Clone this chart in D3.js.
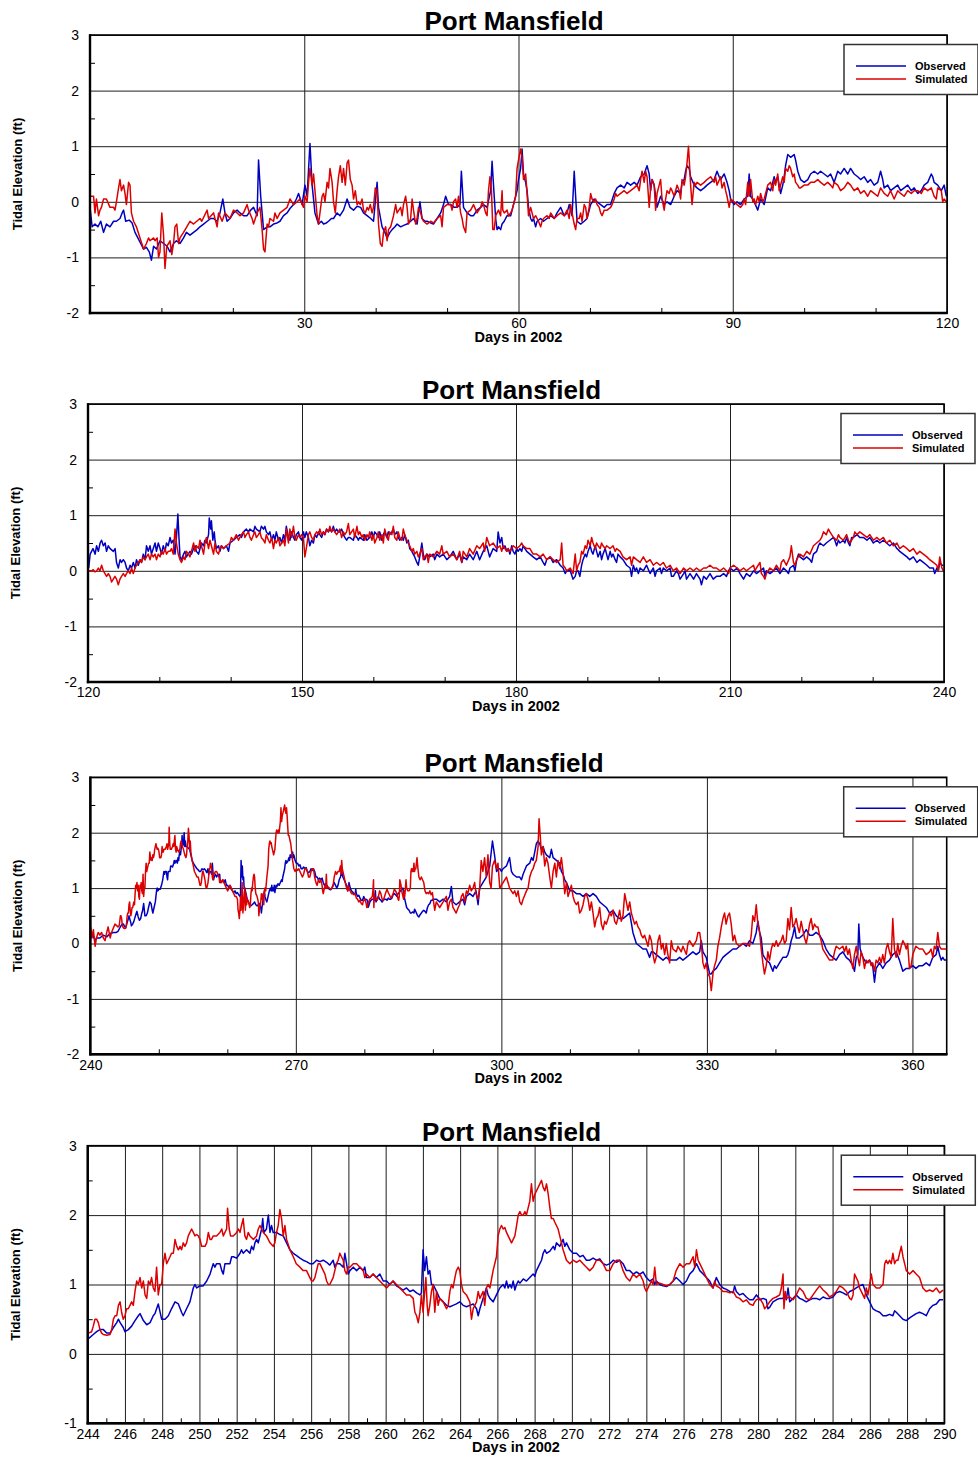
<!DOCTYPE html>
<html><head><meta charset="utf-8">
<script src="https://cdn.jsdelivr.net/npm/d3@7"></script>
<style>
body{margin:0;background:#fff;}
svg{display:block;font-family:Arial,"Liberation Sans",sans-serif;}
</style>
</head><body>
<svg id="chart" width="978" height="1458"></svg>
<script>
// ---------------- DATA (day of 2002, tidal elevation ft) ----------------
const obs1 = [[0,-0.1],[0.3,-0.45],[0.7,-0.4],[1.1,-0.45],[1.5,-0.35],[1.9,-0.55],[2.3,-0.4],[2.8,-0.45],[3.3,-0.35],[3.7,-0.35],[4.2,-0.3],[4.5,-0.2],[4.7,-0.15],[5.0,-0.35],[5.5,-0.33],[5.9,-0.38],[6.3,-0.55],[6.7,-0.65],[7.1,-0.75],[7.5,-0.85],[7.9,-0.82],[8.3,-0.9],[8.6,-1.05],[8.9,-0.8],[9.3,-0.85],[9.8,-0.7],[10.3,-0.75],[10.8,-0.8],[11.2,-0.9],[11.7,-0.75],[12.1,-0.7],[12.6,-0.75],[13.1,-0.65],[13.5,-0.55],[14.0,-0.6],[14.5,-0.55],[15.0,-0.5],[15.4,-0.45],[15.9,-0.4],[16.4,-0.35],[16.9,-0.3],[17.3,-0.3],[17.8,-0.35],[18.2,-0.2],[18.6,0.05],[18.9,-0.2],[19.2,-0.35],[19.6,-0.3],[20.1,-0.2],[20.6,-0.15],[21.0,-0.2],[21.5,-0.25],[22.0,-0.25],[22.5,-0.15],[22.9,-0.1],[23.4,-0.25],[23.6,0.75],[23.9,0.1],[24.3,-0.5],[24.8,-0.45],[25.2,-0.45],[25.7,-0.4],[26.2,-0.38],[26.6,-0.35],[27.1,-0.25],[27.6,-0.2],[28.0,-0.12],[28.5,-0.05],[28.9,0.05],[29.2,0.15],[29.7,-0.05],[30.1,0.3],[30.4,0.1],[30.8,1.05],[31.1,0.3],[31.5,-0.2],[32.0,-0.4],[32.4,-0.35],[32.7,-0.4],[33.1,-0.38],[33.4,-0.35],[33.8,-0.3],[34.1,-0.3],[34.6,-0.2],[35.0,-0.25],[35.5,-0.15],[36.0,0.05],[36.4,-0.1],[36.9,-0.15],[37.4,-0.08],[37.9,-0.1],[38.3,-0.2],[38.8,-0.25],[39.3,-0.3],[39.7,-0.35],[40.2,0.35],[40.4,-0.1],[40.9,-0.45],[41.3,-0.55],[41.6,-0.65],[42.0,-0.55],[42.3,-0.5],[42.7,-0.45],[43.0,-0.4],[43.5,-0.45],[44.0,-0.42],[44.4,-0.4],[44.9,-0.35],[45.3,-0.3],[45.8,-0.4],[46.2,0.0],[46.5,-0.3],[46.9,-0.35],[47.2,-0.35],[47.7,-0.38],[48.1,-0.4],[48.6,-0.3],[49.1,-0.2],[49.5,-0.05],[49.8,0.1],[50.2,-0.05],[50.5,-0.05],[51.0,-0.1],[51.4,-0.1],[51.8,-0.05],[52.0,0.55],[52.3,-0.1],[52.8,-0.2],[53.3,-0.25],[53.7,-0.25],[54.2,-0.15],[54.7,-0.1],
[55.1,-0.05],[55.6,-0.1],[56.1,0.2],[56.3,0.73],[56.5,0.3],[56.8,-0.3],[57.0,-0.5],[57.2,-0.45],[57.5,-0.5],[57.7,-0.4],[58.0,-0.35],[58.4,-0.25],[58.9,-0.25],[59.3,-0.05],[59.8,0.2],[60.0,0.4],[60.3,0.6],[60.5,0.95],[60.7,0.5],[61.0,0.35],[61.2,0.2],[61.4,-0.1],[61.7,-0.3],[61.9,-0.35],[62.1,-0.3],[62.4,-0.45],[62.6,-0.35],[63.1,-0.3],[63.5,-0.35],[64.0,-0.3],[64.5,-0.25],[65.0,-0.3],[65.4,-0.2],[65.9,-0.1],[66.4,-0.25],[66.8,-0.2],[67.1,-0.05],[67.3,-0.15],[67.5,-0.25],[67.8,0.55],[68.0,0.1],[68.2,-0.35],[68.7,-0.4],[69.2,-0.35],[69.6,-0.3],[70.1,-0.05],[70.6,0.05],[71.0,0.0],[71.5,-0.05],[72.0,-0.1],[72.4,-0.05],[72.9,-0.05],[73.4,0.15],[73.8,0.25],[74.3,0.3],[74.8,0.25],[75.2,0.35],[75.7,0.3],[76.2,0.35],[76.6,0.3],[77.1,0.45],[77.6,0.5],[78.0,0.65],[78.3,0.5],[78.5,0.2],[78.7,0.4],[79.0,0.3],[79.2,0.1],[79.4,-0.1],[79.9,0.1],[80.4,-0.05],[80.8,0.0],[81.3,-0.05],[81.8,0.1],[82.2,0.2],[82.7,0.15],[82.9,0.35],[83.2,0.4],[83.4,0.55],[83.6,0.65],[83.9,0.6],[84.1,0.45],[84.6,0.3],[85.0,0.25],[85.5,0.2],[86.0,0.25],[86.4,0.3],[86.9,0.35],[87.4,0.4],[87.8,0.55],[88.1,0.45],[88.3,0.4],[88.8,0.5],[89.2,0.35],[89.5,0.2],[89.7,0.05],[90.2,-0.05],[90.6,0.0],[91.1,-0.05],[91.6,0.05],[92.1,0.1],[92.3,0.5],[92.5,0.1],[92.8,0.05],[93.0,0.0],[93.5,-0.15],[93.9,0.05],[94.4,-0.05],[94.9,0.25],[95.3,0.2],[95.8,0.45],[96.0,0.35],[96.3,0.45],[96.5,0.3],[96.7,0.15],[97.0,0.3],[97.2,0.45],[97.4,0.65],[97.7,0.85],[98.1,0.8],[98.6,0.85],[98.8,0.75],[99.1,0.55],[99.5,0.4],[100.0,0.35],[100.5,0.4],[100.9,0.5],[101.4,0.55],[101.9,0.5],[102.3,0.55],[102.8,0.5],[103.3,0.45],[103.7,0.5],[104.2,0.35],[104.7,0.55],[105.1,0.5],[105.6,0.6],[106.1,0.5],[106.5,0.6],[107.0,0.5],[107.5,0.45],[107.9,0.4],[108.4,0.45],[108.9,0.35],[109.3,0.4],[109.8,0.3],[110.3,0.35],[110.7,0.55],[111.0,0.4],[111.2,0.25],[111.7,0.3],[112.1,0.2],[112.6,0.25],[113.1,0.3],[113.5,0.2],[114.0,0.25],[114.5,0.3],[115.0,0.2],[115.4,0.25],[115.9,0.15],[116.4,0.2],[116.8,0.3],[117.3,0.35],[117.8,0.5],[118.0,0.45],[118.2,0.35],[118.7,0.3],[119.2,0.2],[119.6,0.3],[119.9,0.1]];

const sim1 = [[0.1,0.1],[0.5,0.1],[0.7,-0.2],[0.9,0.05],[1.2,-0.25],[1.4,-0.15],[1.6,-0.1],[1.9,0.05],[2.3,0.05],[2.8,-0.1],[3.3,-0.1],[3.5,-0.15],[3.7,0.0],[4.0,0.25],[4.2,0.4],[4.4,0.2],[4.7,0.3],[4.9,0.15],[5.1,-0.05],[5.4,0.35],[5.6,0.3],[5.8,-0.2],[6.1,-0.35],[6.5,-0.45],[7.0,-0.65],[7.5,-0.85],[7.9,-0.75],[8.2,-0.65],[8.4,-0.7],[8.9,-0.65],[9.1,-0.7],[9.4,-0.65],[9.6,-1.0],[9.8,-0.9],[10.05,-0.2],[10.3,-0.6],[10.5,-1.2],[10.75,-0.8],[11.0,-0.75],[11.2,-0.7],[11.45,-0.95],[11.7,-0.75],[11.9,-0.45],[12.15,-0.4],[12.4,-0.75],[12.6,-0.65],[13.1,-0.55],[13.55,-0.45],[14.0,-0.35],[14.5,-0.4],[14.95,-0.35],[15.4,-0.3],[15.65,-0.35],[16.4,-0.15],[16.6,-0.3],[17.3,-0.2],[17.8,-0.45],[18.0,-0.2],[18.5,-0.35],[18.9,-0.2],[19.6,-0.3],[20.1,-0.15],[20.6,-0.2],[21.0,-0.25],[21.5,-0.2],[22.0,-0.05],[22.2,-0.15],[22.7,-0.3],[22.9,-0.4],[23.4,-0.2],[23.8,-0.1],[24.1,-0.5],[24.3,-0.85],[24.5,-0.9],[24.8,-0.4],[25.0,-0.45],[25.2,-0.3],[25.7,-0.35],[25.9,-0.2],[26.2,-0.3],[26.6,-0.2],[27.1,-0.15],[27.6,-0.1],[28.0,0.05],[28.5,-0.05],[29.0,0.0],[29.4,0.05],[29.9,-0.1],[30.1,0.1],[30.4,0.0],[30.6,0.35],[30.8,0.6],[31.1,0.3],[31.3,0.5],[31.5,0.2],[31.8,-0.25],[32.0,-0.4],[32.2,-0.2],[32.5,0.1],[32.7,0.15],[32.9,0.0],[33.2,0.35],[33.4,0.25],[33.6,0.6],[33.9,0.35],[34.1,0.0],[34.35,-0.2],[34.6,0.2],[34.8,0.45],[35.05,0.65],[35.3,0.35],[35.5,0.6],[35.75,0.3],[36.0,0.7],[36.2,0.75],[36.45,0.4],[36.7,0.3],[36.9,0.05],[37.15,0.2],[37.4,-0.05],[37.6,0.0],[37.85,-0.05],[38.1,0.05],[38.3,-0.15],[38.55,-0.2],[38.8,-0.1],[39.0,-0.15],[39.25,-0.05],[39.5,-0.2],[39.7,-0.1],[39.95,0.25],[40.2,0.2],[40.4,-0.4],[40.65,-0.75],[40.9,-0.8],[41.1,-0.55],[41.4,-0.45],[41.6,-0.7],[41.8,-0.5],[42.1,-0.45],[42.5,-0.25],[42.8,-0.05],[43.0,-0.2],[43.5,-0.1],[43.7,-0.25],[43.9,-0.05],[44.2,0.1],[44.4,-0.1],[44.6,-0.4],[44.9,-0.3],[45.1,0.05],[45.3,-0.15],[45.6,-0.4],[45.8,-0.3],[46.0,-0.1],[46.3,-0.2],[46.5,-0.3],[46.7,-0.35],[47.2,-0.4],[47.7,-0.35],[48.1,-0.38],[48.6,-0.3],[49.1,-0.25],[49.3,-0.45],[49.5,-0.1],[50.0,-0.05],[50.5,-0.05],[50.7,-0.15],[50.9,0.0],[51.2,0.05],[51.4,-0.1],[51.6,0.1],[51.9,-0.2],[52.1,-0.3],[52.3,-0.45],[52.6,-0.55],[52.8,-0.2],[53.3,-0.15],[53.7,-0.05],[54.2,-0.2],[54.7,-0.1],
[54.9,0.0],[55.1,-0.05],[55.4,-0.2],[55.6,-0.25],[55.8,0.2],[56.0,0.45],[56.2,0.25],[56.3,-0.1],[56.4,-0.5],[56.6,-0.5],[56.8,-0.25],[57.0,-0.2],[57.2,-0.15],[57.5,-0.25],[57.7,0.2],[57.8,-0.15],[58.0,-0.2],[58.4,-0.15],[58.6,-0.25],[58.9,-0.2],[59.1,-0.15],[59.3,-0.05],[59.6,0.1],[59.8,0.6],[60.0,0.75],[60.3,0.95],[60.5,0.8],[60.7,0.4],[61.0,0.5],[61.2,0.15],[61.4,-0.25],[61.7,-0.1],[61.9,-0.2],[62.1,-0.3],[62.4,-0.25],[62.6,-0.3],[62.8,-0.35],[63.1,-0.45],[63.3,-0.35],[63.5,-0.3],[64.0,-0.25],[64.3,-0.3],[64.5,-0.2],[65.0,-0.3],[65.4,-0.25],[65.9,-0.2],[66.4,-0.25],[66.8,-0.15],[67.1,-0.3],[67.3,-0.05],[67.5,-0.2],[67.8,-0.4],[68.0,-0.5],[68.2,-0.3],[68.5,-0.3],[68.7,-0.2],[68.9,-0.35],[69.2,-0.05],[69.4,-0.1],[69.6,-0.3],[69.9,-0.1],[70.1,0.15],[70.3,0.05],[70.6,0.0],[70.8,0.05],[71.0,-0.05],[71.3,-0.1],[71.5,-0.2],[71.7,-0.25],[72.0,-0.15],[72.4,-0.15],[72.9,-0.1],[73.1,-0.05],[73.4,0.05],[73.6,0.15],[73.8,0.1],[74.3,0.15],[74.8,0.2],[75.2,0.15],[75.7,0.2],[76.2,0.25],[76.6,0.3],[76.9,0.2],[77.1,0.4],[77.3,0.55],[77.6,0.35],[77.8,0.55],[78.0,0.45],[78.3,-0.1],[78.5,0.25],[78.7,0.4],[79.0,0.3],[79.2,-0.15],[79.4,0.15],[79.7,0.3],[79.9,0.4],[80.1,0.05],[80.4,-0.15],[80.6,0.05],[80.8,0.2],[81.1,0.15],[81.3,0.25],[81.5,0.2],[81.8,0.1],[82.2,0.3],[82.5,0.2],[82.7,0.05],[82.9,0.4],[83.2,0.3],[83.4,0.45],[83.6,0.7],[83.8,1.0],[84.0,0.55],[84.1,0.3],[84.3,-0.05],[84.6,0.35],[84.8,0.3],[85.0,0.35],[85.5,0.3],[86.0,0.35],[86.4,0.4],[86.9,0.45],[87.4,0.35],[87.6,0.45],[87.8,0.3],[88.3,0.45],[88.5,0.25],[88.8,0.35],[89.0,0.2],[89.2,0.1],[89.5,-0.1],[89.7,0.05],[90.2,0.0],[90.6,-0.05],[91.1,-0.1],[91.4,-0.05],[91.6,0.05],[91.8,-0.05],[92.1,0.35],[92.3,0.1],[92.5,0.4],[92.8,0.0],[93.0,0.05],[93.2,-0.05],[93.5,0.1],[93.7,0.0],[93.9,0.15],[94.2,0.0],[94.4,0.05],[94.9,0.3],[95.3,0.35],[95.6,0.2],[95.8,0.4],[96.0,0.3],[96.3,0.5],[96.5,0.2],[96.7,0.3],[97.0,0.45],[97.2,0.35],[97.4,0.6],[97.7,0.55],[97.9,0.65],[98.1,0.6],[98.4,0.45],[98.6,0.5],[98.8,0.35],[99.1,0.3],[99.3,0.25],[99.5,0.25],[100.0,0.3],[100.5,0.3],[100.9,0.35],[101.4,0.35],[101.9,0.4],[102.3,0.35],[102.8,0.3],[103.3,0.35],[103.7,0.3],[104.0,0.25],[104.2,0.35],[104.7,0.3],[105.1,0.2],[105.6,0.25],[106.1,0.35],[106.5,0.3],[107.0,0.2],[107.5,0.25],[107.9,0.15],[108.4,0.2],[108.9,0.1],[109.3,0.2],[109.8,0.15],[110.3,0.1],[110.7,0.25],[111.2,0.15],[111.7,0.1],[112.1,0.2],[112.6,0.05],[113.1,0.2],[113.5,0.15],[114.0,0.1],[114.5,0.2],[115.0,0.15],[115.4,0.2],[115.9,0.2],[116.4,0.15],[116.8,0.25],[117.3,0.2],[117.8,0.25],[118.2,0.1],[118.5,0.05],[118.7,0.25],[119.2,0.2],[119.4,0.0],[119.6,0.05],[119.9,0.0]];

const obs2 = [[120.1,0.05],[120.3,0.3],[120.7,0.4],[121.0,0.3],[121.2,0.45],[121.45,0.35],[121.7,0.5],[121.9,0.55],[122.15,0.45],[122.4,0.5],[122.6,0.35],[122.85,0.45],[123.1,0.4],[123.55,0.35],[123.8,0.4],[124.0,0.15],[124.25,0.05],[124.5,0.2],[124.7,0.15],[124.95,0.2],[125.2,0.15],[125.4,0.05],[125.65,0.0],[125.9,0.1],[126.1,0.05],[126.35,0.15],[126.6,0.05],[126.8,0.2],[127.05,0.1],[127.3,0.2],[127.5,0.15],[127.75,0.3],[128.0,0.2],[128.2,0.45],[128.45,0.35],[128.7,0.45],[128.9,0.3],[129.15,0.4],[129.4,0.5],[129.6,0.35],[129.85,0.5],[130.1,0.4],[130.3,0.3],[130.55,0.45],[130.8,0.35],[131.0,0.5],[131.25,0.45],[131.5,0.6],[131.7,0.5],[131.95,0.55],[132.2,0.3],[132.4,0.6],[132.6,1.02],[132.75,0.6],[132.9,0.25],[133.1,0.2],[133.4,0.3],[133.6,0.35],[133.8,0.25],[134.3,0.35],[134.5,0.3],[134.8,0.4],[135.0,0.45],[135.2,0.35],[135.5,0.3],[135.7,0.4],[135.9,0.5],[136.2,0.45],[136.4,0.55],[136.6,0.5],[136.9,0.65],[137.0,0.95],[137.2,0.75],[137.3,0.9],[137.5,0.55],[137.7,0.7],[137.8,0.55],[138.0,0.4],[138.3,0.45],[138.5,0.35],[138.7,0.45],[139.0,0.4],[139.4,0.45],[139.7,0.35],[139.9,0.5],[140.4,0.55],[140.8,0.6],[141.3,0.65],[141.5,0.6],[141.8,0.7],[142.2,0.75],[142.5,0.7],[142.7,0.75],[143.2,0.7],[143.4,0.8],[143.6,0.75],[144.1,0.7],[144.3,0.8],[144.6,0.75],[144.8,0.8],[145.0,0.7],[145.3,0.65],[145.5,0.7],[145.75,0.55],[146.0,0.65],[146.2,0.55],[146.4,0.7],[146.7,0.55],[146.9,0.6],[147.15,0.5],[147.4,0.65],[147.6,0.55],[147.8,0.8],[148.1,0.6],[148.3,0.55],[148.55,0.7],[148.8,0.6],[149.0,0.55],[149.2,0.65],[149.5,0.7],[149.7,0.6],[149.95,0.55],[150.2,0.7],[150.4,0.6],[150.6,0.7],[150.9,0.6],[151.1,0.45],[151.35,0.55],[151.6,0.5],[151.8,0.65],[152.05,0.6],[152.3,0.7],[152.5,0.65],[152.75,0.6],[153.0,0.7],[153.2,0.65],[153.45,0.75],[153.7,0.7],[153.9,0.75],[154.15,0.7],[154.4,0.8],[154.6,0.7],[154.85,0.75],[155.1,0.7],[155.3,0.7],[155.55,0.75],[155.8,0.65],[156.0,0.6],[156.25,0.55],[156.5,0.6],[156.7,0.6],[157.2,0.55],[157.4,0.65],[157.7,0.6],[157.9,0.55],[158.1,0.6],[158.6,0.55],[158.8,0.65],[159.1,0.55],[159.5,0.6],[159.8,0.7],[160.0,0.6],[160.2,0.7],[160.5,0.65],[160.7,0.6],[160.9,0.7],[161.2,0.55],[161.4,0.65],[161.6,0.7],[161.9,0.6],[162.1,0.7],[162.3,0.65],[162.6,0.7],[162.8,0.75],[163.0,0.65],[163.3,0.7],[163.5,0.6],[163.7,0.55],[164.0,0.6],[164.2,0.55],[164.4,0.65],[164.7,0.5],[164.9,0.55],[165.1,0.4],[165.4,0.35],[165.6,0.3],[165.8,0.25],[166.1,0.15],[166.3,0.1],[166.5,0.25],[166.8,0.5],[167.0,0.3],[167.2,0.2],[167.5,0.3],[167.9,0.25],[168.4,0.3],[168.6,0.2],[168.9,0.3],[169.3,0.25],[169.8,0.3],[170.3,0.2],[170.7,0.25],[171.2,0.35],[171.7,0.2],[172.1,0.3],[172.4,0.15],[172.6,0.25],[173.1,0.2],[173.5,0.3],[174.0,0.2],[174.5,0.35],[174.9,0.2],[175.4,0.35],[175.9,0.45],[176.3,0.25],[176.8,0.4],[177.3,0.35],[177.5,0.7],
[177.75,0.5],[178.0,0.6],[178.2,0.4],[178.45,0.45],[178.7,0.35],[178.9,0.4],[179.15,0.3],[179.4,0.45],[179.6,0.35],[179.85,0.3],[180.1,0.4],[180.3,0.35],[180.55,0.4],[180.8,0.35],[181.0,0.45],[181.5,0.35],[181.95,0.3],[182.4,0.25],[182.9,0.2],[183.4,0.25],[183.8,0.15],[184.05,0.1],[184.3,0.2],[184.8,0.25],[185.2,0.15],[185.7,0.2],[186.2,0.1],[186.6,0.05],[186.9,-0.05],[187.1,0.0],[187.6,0.0],[188.0,-0.15],[188.3,-0.1],[188.5,0.0],[188.7,0.0],[188.95,-0.1],[189.2,0.1],[189.4,0.2],[189.7,0.3],[189.9,0.25],[190.1,0.35],[190.4,0.45],[190.6,0.35],[190.8,0.3],[191.1,0.45],[191.3,0.35],[191.5,0.25],[191.8,0.35],[192.0,0.2],[192.2,0.3],[192.5,0.4],[192.7,0.3],[192.9,0.2],[193.2,0.35],[193.4,0.25],[193.6,0.3],[193.9,0.2],[194.1,0.15],[194.3,0.3],[194.6,0.25],[195.0,0.2],[195.5,0.1],[196.0,0.05],[196.2,-0.1],[196.45,0.1],[196.7,0.0],[196.9,0.05],[197.15,-0.05],[197.4,0.05],[197.85,0.0],[198.3,0.1],[198.8,-0.05],[199.0,0.0],[199.25,0.05],[199.5,-0.1],[199.7,0.0],[200.2,0.05],[200.4,-0.05],[200.65,0.05],[201.1,0.0],[201.6,0.05],[201.8,-0.1],[202.05,-0.1],[202.5,0.0],[202.75,-0.05],[203.0,-0.15],[203.5,-0.05],[203.7,0.0],[203.9,-0.15],[204.4,-0.05],[204.9,-0.15],[205.3,-0.05],[205.8,-0.15],[206.0,-0.25],[206.3,-0.1],[206.7,-0.15],[207.2,-0.05],[207.65,-0.15],[208.1,-0.1],[208.6,-0.1],[209.1,-0.05],[209.5,-0.1],[209.8,0.0],[210.0,0.05],[210.5,0.0],[211.0,0.05],[211.4,-0.05],[211.9,-0.15],[212.3,-0.05],[212.8,-0.1],[213.3,0.0],[213.7,-0.05],[214.2,0.0],[214.7,0.05],[214.9,-0.1],[215.1,0.0],[215.6,-0.05],[216.1,0.0],[216.5,0.05],[217.0,-0.05],[217.5,0.05],[217.9,0.0],[218.2,-0.05],[218.4,0.05],[218.9,0.1],[219.1,0.0],[219.35,0.2],[219.6,0.3],[219.8,0.25],[220.3,0.2],[220.75,0.25],[221.2,0.2],[221.45,0.15],[221.7,0.3],[222.15,0.35],[222.4,0.45],[222.6,0.5],[223.1,0.45],[223.5,0.5],[224.0,0.55],[224.5,0.6],[224.7,0.55],[224.95,0.45],[225.2,0.55],[225.4,0.5],[225.9,0.55],[226.1,0.5],[226.35,0.6],[226.6,0.5],[226.8,0.45],[227.05,0.6],[227.3,0.6],[227.8,0.65],[228.2,0.6],[228.7,0.6],[229.2,0.55],[229.6,0.6],[230.1,0.5],[230.6,0.55],[231.0,0.5],[231.5,0.55],[231.95,0.5],[232.4,0.45],[232.9,0.5],[233.4,0.4],[233.8,0.35],[234.3,0.3],[234.8,0.25],[235.2,0.2],[235.7,0.25],[236.2,0.15],[236.6,0.2],[237.1,0.15],[237.6,0.1],[238.0,0.05],[238.5,0.05],[238.7,-0.05],[239.0,0.05],[239.2,0.0],[239.4,0.15],[239.7,0.1],[239.9,0.1]];

const sim2 = [[120.09,0.0],[120.5,0.0],[120.74,0.02],[120.98,-0.02],[121.21,0.0],[121.45,0.05],[121.68,0.0],[121.91,0.1],[122.15,0.0],[122.38,-0.05],[122.61,-0.1],[122.85,-0.05],[123.08,-0.1],[123.31,-0.2],[123.55,-0.15],[123.78,-0.1],[124.0,-0.15],[124.25,-0.25],[124.48,-0.15],[124.7,-0.1],[124.95,-0.05],[125.2,-0.1],[125.4,-0.05],[125.65,0.0],[125.9,-0.05],[126.1,0.05],[126.35,-0.05],[126.6,0.05],[126.8,0.1],[127.05,0.15],[127.3,0.2],[127.5,0.15],[127.75,0.25],[128.0,0.2],[128.2,0.25],[128.45,0.3],[128.7,0.2],[128.9,0.3],[129.15,0.25],[129.4,0.3],[129.6,0.2],[129.85,0.3],[130.1,0.25],[130.3,0.35],[130.55,0.3],[130.8,0.4],[131.0,0.3],[131.25,0.35],[131.5,0.35],[131.7,0.4],[131.95,0.3],[132.2,0.75],[132.4,0.5],[132.65,0.3],[132.9,0.2],[133.1,0.15],[133.4,0.25],[133.6,0.2],[133.8,0.35],[134.1,0.3],[134.3,0.25],[134.5,0.35],[134.8,0.5],[135.0,0.35],[135.2,0.45],[135.5,0.4],[135.7,0.55],[135.9,0.45],[136.2,0.3],[136.4,0.5],[136.6,0.6],[136.9,0.4],[137.1,0.55],[137.3,0.45],[137.6,0.3],[137.8,0.5],[138.0,0.35],[138.3,0.3],[138.5,0.4],[138.7,0.45],[139.0,0.4],[139.4,0.45],[139.9,0.5],[140.1,0.6],[140.4,0.55],[140.6,0.6],[140.8,0.65],[141.1,0.55],[141.3,0.6],[141.5,0.65],[141.8,0.7],[142.0,0.6],[142.2,0.65],[142.5,0.7],[142.7,0.6],[142.9,0.55],[143.2,0.65],[143.4,0.7],[143.6,0.6],[143.9,0.65],[144.1,0.7],[144.3,0.6],[144.6,0.55],[144.8,0.5],[145.0,0.65],[145.3,0.55],[145.5,0.5],[145.75,0.6],[146.0,0.4],[146.2,0.55],[146.4,0.5],[146.7,0.6],[146.9,0.45],[147.15,0.5],[147.4,0.55],[147.6,0.45],[147.8,0.75],[148.1,0.5],[148.3,0.75],[148.55,0.6],[148.8,0.8],[149.0,0.6],[149.2,0.55],[149.5,0.65],[149.7,0.6],[149.95,0.65],[150.2,0.6],[150.4,0.25],[150.6,0.4],[150.9,0.65],[151.1,0.7],[151.35,0.6],[151.6,0.55],[151.8,0.65],[152.05,0.7],[152.3,0.65],[152.5,0.75],[152.75,0.65],[153.0,0.7],[153.2,0.65],[153.45,0.75],[153.7,0.7],[153.9,0.8],[154.15,0.7],[154.4,0.75],[154.6,0.7],[154.85,0.65],[155.1,0.7],[155.3,0.75],[155.55,0.6],[155.8,0.7],[156.0,0.65],[156.25,0.7],[156.5,0.85],[156.7,0.65],[156.95,0.7],[157.2,0.75],[157.4,0.6],[157.7,0.8],[157.9,0.65],[158.1,0.7],[158.4,0.6],[158.6,0.65],[158.8,0.55],[159.1,0.65],[159.3,0.6],[159.5,0.7],[159.8,0.55],[160.0,0.65],[160.2,0.5],[160.5,0.6],[160.7,0.7],[160.9,0.55],[161.2,0.65],[161.4,0.5],[161.6,0.75],[161.9,0.6],[162.1,0.55],[162.3,0.7],[162.6,0.65],[162.8,0.8],[163.0,0.6],[163.3,0.55],[163.5,0.7],[163.7,0.6],[164.0,0.55],[164.2,0.75],[164.4,0.65],[164.7,0.55],[164.9,0.5],[165.1,0.45],[165.4,0.35],[165.6,0.4],[165.8,0.3],[166.1,0.35],[166.3,0.25],[166.5,0.3],[166.8,0.4],[167.0,0.2],[167.2,0.25],[167.5,0.3],[167.7,0.15],[167.9,0.3],[168.4,0.25],[168.9,0.35],[169.3,0.3],[169.6,0.45],[169.8,0.3],[170.3,0.35],[170.7,0.25],[171.2,0.3],[171.7,0.2],[172.1,0.35],[172.4,0.15],[172.6,0.35],[173.1,0.25],[173.5,0.4],[174.0,0.3],[174.5,0.45],[174.9,0.4],[175.4,0.5],[175.6,0.35],[175.9,0.6],[176.3,0.45],[176.8,0.5],[177.3,0.4],
[177.75,0.45],[178.0,0.35],[178.2,0.45],[178.45,0.4],[178.7,0.35],[178.9,0.4],[179.15,0.35],[179.4,0.4],[179.6,0.45],[180.1,0.4],[180.55,0.45],[180.8,0.5],[181.0,0.45],[181.5,0.4],[181.95,0.4],[182.4,0.3],[182.9,0.3],[183.4,0.25],[183.8,0.3],[184.3,0.2],[184.8,0.25],[185.2,0.2],[185.7,0.15],[186.2,0.2],[186.4,0.5],[186.6,0.1],[186.9,0.05],[187.1,0.0],[187.6,0.05],[188.0,-0.05],[188.3,0.3],[188.5,0.0],[188.7,0.1],[188.95,0.15],[189.2,0.35],[189.4,0.3],[189.7,0.45],[189.9,0.4],[190.1,0.55],[190.4,0.45],[190.6,0.6],[190.8,0.5],[191.1,0.4],[191.3,0.5],[191.5,0.45],[191.8,0.4],[192.0,0.5],[192.2,0.45],[192.5,0.4],[192.7,0.45],[193.2,0.4],[193.6,0.45],[193.9,0.35],[194.1,0.4],[194.6,0.35],[195.0,0.25],[195.5,0.2],[196.0,0.25],[196.2,0.1],[196.45,0.25],[196.9,0.2],[197.4,0.15],[197.85,0.25],[198.3,0.15],[198.8,0.2],[199.25,0.1],[199.7,0.15],[200.2,0.1],[200.65,0.15],[201.1,0.05],[201.6,0.1],[202.05,0.0],[202.5,0.05],[203.0,-0.05],[203.5,0.05],[203.9,0.0],[204.4,0.05],[204.9,0.0],[205.3,0.05],[205.8,0.0],[206.3,0.05],[206.7,0.05],[207.2,0.1],[207.65,0.05],[208.1,0.05],[208.6,0.0],[209.1,0.05],[209.5,0.0],[209.8,-0.05],[210.0,0.05],[210.5,0.1],[211.0,0.05],[211.4,0.0],[211.9,0.05],[212.3,0.0],[212.8,0.05],[213.3,0.1],[213.5,0.0],[213.7,0.05],[214.2,0.15],[214.4,-0.05],[214.7,-0.1],[214.9,-0.15],[215.1,-0.05],[215.6,0.05],[216.1,0.0],[216.5,0.1],[217.0,0.0],[217.2,0.15],[217.5,0.2],[217.9,0.1],[218.4,0.25],[218.6,0.45],[218.9,0.15],[219.1,0.1],[219.35,0.2],[219.8,0.3],[220.3,0.25],[220.75,0.35],[221.2,0.3],[221.7,0.45],[222.15,0.5],[222.6,0.55],[222.85,0.6],[223.1,0.7],[223.5,0.65],[223.8,0.75],[224.0,0.7],[224.5,0.6],[224.95,0.55],[225.2,0.65],[225.4,0.6],[225.9,0.55],[226.35,0.65],[226.6,0.55],[226.8,0.5],[227.3,0.6],[227.5,0.7],[227.8,0.65],[228.2,0.7],[228.7,0.65],[229.2,0.6],[229.6,0.65],[230.1,0.55],[230.6,0.6],[231.0,0.55],[231.5,0.6],[231.95,0.5],[232.4,0.55],[232.9,0.45],[233.4,0.5],[233.8,0.4],[234.3,0.45],[234.8,0.4],[235.2,0.35],[235.7,0.4],[236.2,0.3],[236.6,0.35],[237.1,0.3],[237.6,0.25],[238.0,0.2],[238.5,0.15],[239.0,0.1],[239.2,0.0],[239.4,0.25],[239.7,0.05],[239.9,0.0]];

// days 240-244
const obs3a = [[240.05,0.1],[240.4,0.15],[240.7,0.05],[240.9,0.1],[241.4,0.1],[241.9,0.15],[242.4,0.12],[242.9,0.18],[243.4,0.2],[243.8,0.2]];
const sim3a = [[240.05,0.3],[240.25,0.1],[240.45,0.25],[240.7,-0.05],[240.9,0.1],[241.15,0.2],[241.4,0.15],[241.65,0.2],[241.9,0.1],[242.15,0.05],[242.4,0.2],[242.6,0.3],[242.9,0.1],[243.1,0.2],[243.6,0.35]];

// days 244-290 (shared by panels 3 and 4)
const obs4 = [[244.04,0.22],[244.3,0.28],[244.48,0.32],[244.66,0.35],[244.84,0.35],[245.02,0.3],[245.2,0.3],[245.38,0.38],[245.56,0.45],[245.65,0.5],[245.74,0.45],[245.91,0.38],[246.0,0.32],[246.18,0.35],[246.36,0.4],[246.54,0.48],[246.72,0.55],[246.81,0.58],[246.99,0.48],[247.17,0.42],[247.35,0.45],[247.52,0.55],[247.61,0.58],[247.7,0.65],[247.79,0.72],[247.97,0.5],[248.15,0.5],[248.33,0.55],[248.5,0.65],[248.69,0.75],[248.87,0.72],[249.04,0.6],[249.13,0.55],[249.31,0.65],[249.49,0.75],[249.67,0.95],[249.76,1.0],[249.85,0.95],[250.03,0.98],[250.2,0.98],[250.39,1.05],[250.57,1.15],[250.74,1.3],[250.83,1.25],[250.92,1.3],[251.1,1.3],[251.2,1.2],[251.28,1.15],[251.37,1.3],[251.46,1.3],[251.64,1.3],[251.73,1.4],[251.82,1.4],[252.0,1.38],[252.18,1.45],[252.26,1.5],[252.35,1.45],[252.53,1.5],[252.71,1.45],[252.8,1.55],[252.9,1.5],[252.98,1.6],[253.07,1.65],[253.16,1.6],[253.25,1.7],[253.34,1.8],[253.4,1.95],[253.46,1.75],[253.6,1.8],[253.7,2.0],[253.79,1.75],[253.87,1.85],[253.96,1.75],[254.14,1.75],[254.32,1.72],[254.5,1.7],[254.59,1.65],[254.68,1.6],[254.86,1.5],[255.04,1.45],[255.2,1.42],[255.4,1.38],[255.57,1.35],[255.75,1.33],[255.93,1.3],[256.1,1.3],[256.29,1.35],[256.47,1.33],[256.65,1.35],[256.83,1.32],[257.0,1.28],[257.18,1.35],[257.27,1.25],[257.36,1.3],[257.54,1.3],[257.72,1.25],[257.81,1.45],[257.9,1.3],[257.99,1.15],[258.08,1.2],[258.26,1.25],[258.44,1.2],[258.62,1.25],[258.8,1.2],[258.88,1.25],[258.97,1.1],[259.15,1.1],[259.33,1.15],[259.5,1.1],[259.69,1.15],[259.87,1.05],[260.05,1.05],[260.22,1.0],[260.4,1.05],[260.58,0.98],[260.76,0.95],[260.94,0.92],[261.12,0.95],[261.3,0.9],[261.48,0.92],[261.66,0.88],[261.84,0.85],[261.92,0.88],[262.01,1.5],[262.1,1.2],[262.19,1.4],[262.28,1.15],[262.37,1.2],[262.46,1.0],[262.55,1.0],[262.73,0.9],[262.9,0.8],[263.09,0.75],[263.27,0.7],[263.45,0.68],[263.62,0.7],[263.8,0.72],[263.98,0.75],[264.16,0.7],[264.34,0.68],[264.52,0.7],[264.7,0.72],[264.88,0.65],[264.97,0.55],[265.06,0.65],[265.23,0.8],[265.41,0.95],[265.5,0.85],[265.6,0.8],[265.77,0.75],[265.95,0.85],[266.13,0.95],[266.31,1.0],[266.4,0.95],[266.49,1.05],[266.58,0.95],[266.67,1.0],[266.76,0.95],[266.85,1.05],[266.94,0.92],[267.03,1.0],[267.12,1.05],[267.21,1.02],[267.39,1.08],[267.56,1.05],[267.74,1.1],[267.92,1.15],[268.01,1.12],[268.1,1.2],[268.28,1.3],[268.37,1.35],[268.46,1.45],[268.55,1.5],[268.64,1.45],[268.82,1.48],[269.0,1.55],[269.08,1.5],[269.17,1.6],[269.35,1.55],[269.53,1.65],[269.62,1.55],[269.71,1.6],[269.89,1.5],[270.07,1.45],[270.25,1.45],[270.43,1.4],[270.6,1.42],[270.78,1.35],[270.96,1.35],[271.14,1.38],[271.32,1.35],[271.5,1.37],[271.68,1.3],[271.86,1.28],[272.04,1.3],[272.22,1.35],[272.4,1.32],[272.57,1.35],[272.75,1.3],[272.93,1.2],[273.11,1.2],[273.29,1.15],[273.47,1.18],[273.65,1.15],[273.83,1.18],[274.0,1.1],[274.18,1.05],[274.36,1.08],[274.45,1.0],[274.54,1.05],[274.72,1.0],[274.9,0.98],[275.08,0.97],[275.26,1.0],[275.44,1.05],[275.6,1.1],[275.8,1.05],[275.97,1.0],[276.15,1.05],[276.33,1.15],[276.51,1.2],[276.69,1.3],[276.87,1.2],[277.05,1.15],[277.22,1.1],[277.4,1.05],[277.58,0.95],[277.76,1.1],[277.94,1.0],[278.12,0.95],[278.3,0.93],[278.48,0.9],[278.66,0.88],[278.74,0.98],[278.83,0.9],[279.01,0.85],[279.19,0.87],[279.37,0.82],[279.55,0.78],[279.73,0.78],[279.91,0.85],[280.0,0.82],[280.09,0.78],[280.27,0.8],[280.44,0.78],[280.53,0.65],[280.62,0.67],[280.8,0.75],[280.98,0.78],[281.16,0.8],[281.34,0.8],[281.43,0.85],[281.52,0.78],[281.61,0.95],[281.7,0.75],[281.88,0.8],[282.05,0.85],[282.23,0.8],[282.41,0.78],[282.59,0.75],[282.77,0.78],[282.95,0.8],[283.13,0.8],[283.31,0.78],[283.49,0.82],[283.66,0.8],[283.84,0.8],[284.02,0.82],[284.2,0.88],[284.38,0.9],[284.56,0.88],[284.74,0.85],[284.92,0.9],[285.1,0.92],[285.27,0.95],[285.45,0.98],[285.63,1.0],[285.72,0.93],[285.81,0.85],[285.99,0.75],[286.17,0.65],[286.35,0.62],[286.53,0.6],[286.71,0.55],[286.88,0.55],[287.06,0.57],[287.24,0.55],[287.33,0.62],[287.42,0.6],[287.6,0.55],[287.78,0.5],[287.96,0.48],[288.14,0.52],[288.32,0.55],[288.49,0.58],[288.67,0.6],[288.85,0.58],[289.03,0.55],[289.21,0.65],[289.39,0.7],[289.57,0.72],[289.75,0.78],[289.93,0.78]];

const sim4 = [[244.04,0.3],[244.21,0.32],[244.3,0.4],[244.39,0.5],[244.48,0.5],[244.57,0.45],[244.66,0.35],[244.75,0.3],[244.84,0.28],[245.02,0.27],[245.2,0.28],[245.29,0.35],[245.38,0.5],[245.47,0.55],[245.56,0.55],[245.65,0.7],[245.74,0.75],[245.82,0.6],[245.91,0.5],[246.0,0.55],[246.09,0.65],[246.18,0.65],[246.27,0.7],[246.36,0.75],[246.45,0.7],[246.54,0.9],[246.63,1.05],[246.72,1.0],[246.81,1.1],[246.9,0.95],[246.99,1.05],[247.08,0.85],[247.17,0.8],[247.26,1.05],[247.35,1.0],[247.43,1.1],[247.52,0.95],[247.61,0.9],[247.7,1.25],[247.79,0.85],[247.88,1.0],[247.97,1.0],[248.06,1.3],[248.15,1.45],[248.24,1.3],[248.33,1.35],[248.42,1.4],[248.5,1.45],[248.6,1.45],[248.69,1.65],[248.78,1.55],[248.87,1.5],[248.96,1.55],[249.04,1.5],[249.13,1.6],[249.22,1.55],[249.31,1.6],[249.4,1.7],[249.49,1.75],[249.58,1.8],[249.67,1.75],[249.76,1.7],[249.85,1.72],[249.94,1.7],[250.03,1.65],[250.12,1.55],[250.2,1.55],[250.3,1.55],[250.39,1.6],[250.48,1.75],[250.57,1.65],[250.65,1.65],[250.74,1.7],[250.92,1.7],[251.1,1.75],[251.2,1.8],[251.28,1.7],[251.37,1.75],[251.46,1.8],[251.51,2.1],[251.6,1.8],[251.67,1.7],[251.82,1.7],[252.0,1.75],[252.09,1.8],[252.18,1.75],[252.26,1.85],[252.35,1.95],[252.44,1.7],[252.53,1.65],[252.62,1.75],[252.71,1.7],[252.9,1.65],[253.07,1.7],[253.16,1.8],[253.25,1.85],[253.34,1.8],[253.43,1.75],[253.6,1.7],[253.79,1.6],[253.96,1.55],[254.05,1.6],[254.14,1.75],[254.23,1.85],[254.32,2.08],[254.41,1.95],[254.5,1.7],[254.59,1.85],[254.68,1.65],[254.86,1.5],[255.04,1.4],[255.2,1.3],[255.4,1.25],[255.57,1.2],[255.75,1.2],[255.93,1.1],[256.02,1.05],[256.1,1.05],[256.2,1.1],[256.29,1.2],[256.38,1.3],[256.47,1.3],[256.56,1.25],[256.65,1.2],[256.74,1.15],[256.83,1.05],[256.92,1.0],[257.0,1.0],[257.18,1.1],[257.27,1.2],[257.36,1.3],[257.45,1.35],[257.54,1.45],[257.63,1.4],[257.72,1.35],[257.81,1.2],[257.9,1.15],[257.99,1.25],[258.08,1.25],[258.26,1.3],[258.44,1.3],[258.62,1.25],[258.8,1.2],[258.88,1.1],[258.97,1.15],[259.15,1.1],[259.33,1.15],[259.5,1.1],[259.69,1.05],[259.87,1.0],[260.05,0.95],[260.22,1.0],[260.4,1.05],[260.58,1.0],[260.76,0.95],[260.94,0.9],[261.12,0.85],[261.3,0.85],[261.48,0.8],[261.57,0.6],[261.66,0.55],[261.75,0.45],[261.84,0.6],[261.92,0.85],[262.01,0.6],[262.1,0.9],[262.16,1.1],[262.23,0.7],[262.28,0.55],[262.37,0.7],[262.46,0.9],[262.55,1.0],[262.64,0.6],[262.73,0.9],[262.82,0.7],[262.9,0.8],[263.09,0.75],[263.27,0.65],[263.36,0.7],[263.45,0.9],[263.54,1.0],[263.62,0.95],[263.72,1.1],[263.8,1.2],[263.9,1.25],[263.98,1.2],[264.07,1.0],[264.16,0.9],[264.34,0.85],[264.52,0.75],[264.61,0.5],[264.7,0.65],[264.88,0.75],[264.97,0.9],[265.06,0.8],[265.23,0.9],[265.32,0.7],[265.41,0.95],[265.5,1.0],[265.6,0.95],[265.77,1.2],[265.95,1.4],[266.04,1.7],[266.13,1.8],[266.22,1.85],[266.31,1.8],[266.4,1.82],[266.49,1.75],[266.58,1.7],[266.67,1.65],[266.76,1.6],[266.85,1.65],[266.94,1.7],[267.03,1.85],[267.12,2.0],[267.21,2.05],[267.3,2.0],[267.39,2.0],[267.48,2.05],[267.56,2.0],[267.65,2.1],[267.74,2.2],[267.83,2.45],[267.92,2.2],[268.01,2.3],[268.1,2.35],[268.19,2.4],[268.28,2.45],[268.37,2.5],[268.46,2.4],[268.55,2.35],[268.64,2.45],[268.73,2.3],[268.82,2.1],[268.9,1.95],[269.0,1.95],[269.08,1.9],[269.17,1.85],[269.26,1.8],[269.35,1.7],[269.53,1.5],[269.71,1.35],[269.89,1.3],[270.07,1.35],[270.25,1.32],[270.43,1.35],[270.6,1.3],[270.78,1.25],[270.96,1.2],[271.14,1.25],[271.32,1.35],[271.5,1.35],[271.68,1.3],[271.86,1.2],[272.04,1.2],[272.22,1.3],[272.4,1.35],[272.57,1.35],[272.75,1.2],[272.93,1.1],[273.11,1.05],[273.29,1.15],[273.47,1.1],[273.65,1.15],[273.83,1.05],[273.91,0.95],[274.0,0.9],[274.18,1.0],[274.27,1.05],[274.36,1.0],[274.45,1.25],[274.54,1.0],[274.72,1.02],[274.9,1.0],[275.08,0.98],[275.26,1.0],[275.44,1.05],[275.6,1.2],[275.8,1.3],[275.97,1.25],[276.15,1.3],[276.33,1.3],[276.51,1.4],[276.6,1.25],[276.69,1.5],[276.78,1.35],[276.87,1.3],[277.05,1.2],[277.22,1.1],[277.4,1.0],[277.58,0.95],[277.67,1.05],[277.76,0.98],[277.94,0.95],[278.12,0.9],[278.3,0.9],[278.48,0.88],[278.66,0.9],[278.83,0.82],[279.01,0.8],[279.19,0.75],[279.37,0.78],[279.55,0.72],[279.73,0.7],[279.82,0.75],[279.91,0.78],[280.09,0.8],[280.27,0.72],[280.35,0.65],[280.44,0.68],[280.62,0.75],[280.8,0.8],[280.98,0.82],[281.16,0.85],[281.25,0.95],[281.34,1.15],[281.39,0.65],[281.46,0.9],[281.52,0.8],[281.7,0.82],[281.88,0.78],[282.05,0.85],[282.23,0.95],[282.41,0.9],[282.59,0.8],[282.77,0.78],[282.95,0.85],[283.13,0.92],[283.31,0.98],[283.49,0.92],[283.66,0.88],[283.84,0.82],[284.02,0.85],[284.2,0.9],[284.38,0.98],[284.56,0.95],[284.74,0.9],[284.92,0.8],[285.01,0.78],[285.1,0.85],[285.18,1.15],[285.27,1.1],[285.36,1.05],[285.45,0.95],[285.54,0.9],[285.63,0.85],[285.72,0.8],[285.81,0.95],[285.9,0.85],[285.99,1.0],[286.08,1.15],[286.17,1.0],[286.35,0.95],[286.53,0.95],[286.71,1.0],[286.8,1.3],[286.88,1.35],[286.97,1.3],[287.06,1.35],[287.15,1.3],[287.24,1.45],[287.33,1.3],[287.42,1.35],[287.51,1.35],[287.6,1.45],[287.69,1.55],[287.78,1.4],[287.87,1.3],[287.96,1.2],[288.14,1.15],[288.32,1.2],[288.49,1.15],[288.67,1.1],[288.85,0.95],[289.03,0.9],[289.21,0.92],[289.39,0.9],[289.57,0.95],[289.75,0.88],[289.93,0.92]];

// days 290-365
const obs3b = [[290.02,0.8],[290.5,0.8],[291.0,0.75],[291.5,0.8],[291.97,0.75],[292.45,0.85],[292.7,1.03],[292.94,0.75],[293.4,0.7],[293.9,0.75],[294.4,0.8],[294.64,0.7],[294.9,0.85],[295.37,0.9],[295.86,0.85],[296.3,0.95],[296.6,0.7],[296.83,1.0],[297.3,1.1],[297.8,1.2],[298.3,1.4],[298.7,1.85],[299.0,1.6],[299.3,1.3],[299.6,1.35],[299.77,1.35],[300.0,1.3],[300.25,1.35],[300.74,1.4],[301.2,1.55],[301.47,1.3],[301.71,1.25],[302.2,1.2],[302.68,1.2],[302.93,1.15],[303.17,1.25],[303.66,1.4],[304.14,1.45],[304.4,1.55],[304.63,1.5],[304.87,1.65],[305.1,1.8],[305.36,1.85],[305.6,1.8],[305.84,1.7],[306.09,1.75],[306.33,1.65],[306.57,1.6],[307.06,1.55],[307.3,1.7],[307.55,1.55],[308.03,1.5],[308.52,1.45],[308.76,1.3],[309.0,1.25],[309.25,1.15],[309.5,1.1],[309.98,0.95],[310.46,0.95],[310.95,0.9],[311.43,0.9],[311.92,0.85],[312.4,0.9],[312.9,0.85],[313.38,0.9],[313.86,0.85],[314.35,0.75],[314.84,0.7],[315.32,0.65],[315.8,0.55],[316.3,0.6],[316.78,0.5],[317.27,0.45],[317.75,0.45],[318.24,0.5],[318.73,0.55],[319.2,0.2],[319.7,0.0],[320.2,-0.05],[320.67,-0.1],[321.16,-0.1],[321.64,-0.25],[321.9,-0.15],[322.13,-0.15],[322.6,-0.2],[323.1,-0.25],[323.59,-0.3],[324.07,-0.25],[324.56,-0.3],[325.05,-0.3],[325.53,-0.3],[326.02,-0.25],[326.5,-0.3],[327.0,-0.25],[327.48,-0.2],[327.96,-0.15],[328.45,-0.2],[328.94,-0.15],[329.18,0.05],[329.42,-0.15],[329.9,-0.25],[330.15,-0.4],[330.4,-0.55],[330.64,-0.55],[330.88,-0.5],[331.37,-0.45],[331.85,-0.35],[332.34,-0.25],[332.8,-0.2],[333.3,-0.15],[333.8,-0.1],[334.3,-0.1],[334.77,-0.05],[335.25,0.0],[335.74,-0.05],[336.22,0.05],[336.7,0.0],[336.96,0.1],[337.2,0.2],[337.44,0.4],[337.7,0.2],[337.93,0.1],[338.17,-0.2],[338.4,-0.25],[338.66,-0.3],[339.14,-0.35],[339.63,-0.5],[339.87,-0.4],[340.12,-0.45],[340.6,-0.35],[341.09,-0.25],[341.57,-0.25],[341.82,-0.2],[342.06,-0.1],[342.3,0.05],[342.55,0.15],[342.8,0.3],[343.03,0.1],[343.5,0.1],[344.0,0.15],[344.5,0.25],[344.98,0.15],[345.46,0.15],[345.95,0.2],[346.44,0.15],[346.92,0.05],[347.4,-0.1],[347.9,-0.2],[348.38,-0.25],[348.87,-0.3],[349.35,-0.2],[349.84,-0.15],[350.33,-0.25],[350.8,-0.3],[351.3,-0.4],[351.54,-0.5],[351.8,-0.25],[352.03,-0.2],[352.17,0.35],[352.37,-0.1],[352.76,-0.25],[353.24,-0.35],[353.73,-0.3],[354.2,-0.4],[354.46,-0.7],[354.7,-0.45],[355.2,-0.35],[355.67,-0.45],[356.16,-0.35],[356.65,-0.3],[357.13,-0.2],[357.62,-0.15],[358.1,-0.3],[358.6,-0.5],[359.1,-0.45],[359.56,-0.45],[360.05,-0.4],[360.5,-0.45],[361.0,-0.4],[361.5,-0.4],[362.0,-0.35],[362.5,-0.4],[362.97,-0.25],[363.45,-0.2],[363.7,-0.05],[363.94,-0.2],[364.2,-0.3],[364.43,-0.25],[364.67,-0.3],[364.9,-0.3]];

const sim3b = [[290.27,0.6],[290.5,0.75],[291.0,0.65],[291.5,0.75],[291.97,0.85],[292.2,0.6],[292.45,0.75],[292.7,0.8],[292.94,0.65],[293.4,0.55],[293.7,0.65],[293.9,0.7],[294.17,0.85],[294.4,0.9],[294.64,0.75],[294.9,0.95],[295.1,0.9],[295.37,1.05],[295.6,0.95],[295.86,1.0],[296.1,1.1],[296.3,0.9],[296.6,0.8],[296.83,1.0],[297.06,1.5],[297.3,1.3],[297.55,1.55],[297.8,1.2],[298.04,1.6],[298.3,1.1],[298.5,1.0],[298.7,1.4],[299.0,1.5],[299.3,1.35],[299.5,1.45],[299.77,1.0],[300.25,1.1],[300.74,1.2],[301.2,1.0],[301.71,0.9],[301.95,0.95],[302.2,0.85],[302.44,0.95],[302.68,0.75],[302.93,0.7],[303.17,0.8],[303.66,0.95],[303.9,1.0],[304.14,1.2],[304.4,1.3],[304.63,1.35],[304.87,1.45],[305.1,1.5],[305.36,1.75],[305.5,2.25],[305.7,1.9],[305.84,1.6],[306.09,1.75],[306.33,1.4],[306.57,1.55],[306.8,1.45],[307.06,1.2],[307.3,1.0],[307.55,1.3],[307.8,1.45],[308.03,1.2],[308.27,1.5],[308.52,1.35],[308.76,1.55],[309.0,1.3],[309.25,0.9],[309.5,1.1],[309.73,0.85],[309.98,0.95],[310.22,1.05],[310.46,0.85],[310.7,0.75],[310.95,0.7],[311.2,0.75],[311.43,0.55],[311.68,0.6],[311.92,0.7],[312.16,0.85],[312.4,0.9],[312.65,0.8],[312.9,0.6],[313.14,0.75],[313.38,0.55],[313.62,0.3],[313.86,0.45],[314.1,0.5],[314.35,0.65],[314.6,0.35],[314.84,0.25],[315.08,0.4],[315.32,0.35],[315.57,0.45],[315.8,0.55],[316.05,0.5],[316.3,0.6],[316.54,0.4],[316.78,0.35],[317.0,0.45],[317.27,0.6],[317.5,0.4],[317.75,0.5],[318.0,0.9],[318.24,0.75],[318.48,0.6],[318.73,0.75],[318.97,0.55],[319.2,0.45],[319.45,0.35],[319.7,0.4],[319.94,0.3],[320.2,0.25],[320.43,0.15],[320.67,0.1],[320.9,0.15],[321.16,0.05],[321.4,-0.05],[321.64,0.15],[321.9,0.05],[322.13,-0.2],[322.37,-0.35],[322.6,-0.25],[322.86,0.05],[323.1,0.15],[323.35,-0.1],[323.59,0.0],[323.83,-0.2],[324.07,0.0],[324.3,-0.2],[324.56,-0.35],[324.8,0.05],[325.05,-0.1],[325.53,-0.15],[325.78,-0.05],[326.02,-0.1],[326.26,-0.15],[326.5,-0.05],[327.0,-0.2],[327.23,0.0],[327.48,0.05],[327.96,-0.05],[328.45,0.05],[328.7,0.2],[328.94,0.2],[329.18,0.0],[329.42,-0.35],[329.66,-0.45],[329.9,-0.35],[330.15,-0.55],[330.4,-0.6],[330.64,-0.85],[330.88,-0.55],[331.12,-0.4],[331.37,-0.3],[331.6,-0.05],[331.85,0.1],[332.1,0.3],[332.34,0.45],[332.58,0.55],[332.8,0.35],[333.07,0.5],[333.3,0.55],[333.55,0.35],[333.8,0.05],[334.04,0.15],[334.3,0.0],[334.77,-0.05],[335.25,0.0],[335.74,0.0],[336.22,-0.05],[336.47,0.15],[336.7,0.5],[336.96,0.4],[337.2,0.7],[337.44,0.35],[337.7,0.2],[337.93,-0.1],[338.17,-0.35],[338.4,-0.55],[338.66,-0.4],[338.9,-0.15],[339.14,-0.3],[339.4,-0.1],[339.63,0.0],[339.87,-0.05],[340.12,0.05],[340.36,-0.05],[340.6,0.0],[340.85,0.05],[341.09,0.15],[341.33,0.0],[341.57,0.05],[341.82,0.45],[342.06,0.25],[342.3,0.65],[342.55,0.3],[342.8,0.35],[343.03,0.45],[343.27,0.3],[343.5,0.2],[343.76,0.4],[344.0,0.25],[344.25,0.1],[344.5,0.0],[344.73,0.15],[344.98,0.35],[345.22,0.45],[345.46,0.25],[345.7,0.35],[345.95,0.3],[346.2,0.3],[346.44,0.15],[346.68,0.05],[346.92,-0.1],[347.4,-0.2],[347.9,-0.3],[348.38,-0.3],[348.63,-0.15],[348.87,-0.05],[349.35,-0.1],[349.84,-0.05],[350.08,-0.15],[350.33,-0.05],[350.57,-0.2],[350.8,-0.1],[351.05,-0.3],[351.3,-0.45],[351.54,-0.2],[351.8,-0.05],[352.03,-0.25],[352.27,-0.4],[352.5,-0.15],[352.76,-0.25],[353.0,-0.45],[353.24,-0.3],[353.5,-0.35],[353.73,-0.3],[353.97,-0.4],[354.2,-0.35],[354.46,-0.5],[354.7,-0.3],[354.94,-0.35],[355.2,-0.25],[355.43,-0.35],[355.67,-0.2],[355.9,-0.35],[356.16,-0.1],[356.4,0.0],[356.65,-0.15],[356.9,-0.25],[357.13,0.45],[357.37,-0.1],[357.62,-0.25],[357.86,0.0],[358.1,-0.2],[358.35,-0.05],[358.6,0.05],[358.83,0.0],[359.1,-0.1],[359.3,0.0],[359.56,-0.45],[359.8,-0.4],[360.05,-0.2],[360.5,-0.05],[361.0,-0.1],[361.5,-0.1],[362.0,-0.2],[362.5,-0.15],[362.72,-0.1],[362.97,-0.25],[363.2,-0.05],[363.45,-0.1],[363.7,0.2],[363.94,-0.05],[364.2,-0.1],[364.43,-0.1],[364.67,-0.1],[364.9,-0.1]];

// tick labels
const xTicks1 = [30,60,90,120];
const xTicks2 = [120,150,180,210,240];
const xTicks3 = [240,270,300,330,360];
const xTicks4 = [244,246,248,250,252,254,256,258,260,262,264,266,268,270,272,274,276,278,280,282,284,286,288,290];
const xMinor1 = [10,20,40,50,70,80,100,110];
const xMinor2 = [130,140,160,170,190,200,220,230];
const xMinor3 = [250,260,280,290,310,320,340,350];
const xMinor4 = [245,247,249,251,253,255,257,259,261,263,265,267,269,271,273,275,277,279,281,283,285,287,289];
const yTicksA = [3,2,1,0,-1,-2];
const yMinorA = [2.5,1.5,0.5,-0.5,-1.5];
const yTicks4 = [3,2,1,0,-1];
const yMinor4 = [2.5,1.5,0.5,-0.5];
const seriesNames = ["Observed","Simulated"];
const titleText = "Port Mansfield";
const xTitle = "Days in 2002";
const yTitle = "Tidal Elevation (ft)";

// ---------------- DRAWING ----------------
const BLUE = "#0000c0", RED = "#dd0000";
const FONT = "Arial, 'Liberation Sans', sans-serif";
const svg = d3.select("#chart");
svg.append("rect").attr("width",978).attr("height",1458).attr("fill","#fff");
const fmt = d => String(d);   // plain hyphen-minus like the original

const panels = [
  {id:1, left:90, right:947, top:35, bottom:313, xDomain:[0,120], yDomain:[-2,3], xTicks:xTicks1, xMinor:xMinor1, yTicks:yTicksA, yMinor:yMinorA, obs:obs1, sim:sim1},
  {id:2, left:88, right:944, top:404, bottom:682, xDomain:[120,240], yDomain:[-2,3], xTicks:xTicks2, xMinor:xMinor2, yTicks:yTicksA, yMinor:yMinorA, obs:obs2, sim:sim2},
  {id:3, left:90.3, right:946.7, top:777.3, bottom:1054.3, xDomain:[240,365], yDomain:[-2,3], xTicks:xTicks3, xMinor:xMinor3, yTicks:yTicksA, yMinor:yMinorA, obs:obs3a.concat(obs4, obs3b), sim:sim3a.concat(sim4, sim3b)},
  {id:4, left:87.7, right:944.3, top:1145.7, bottom:1423.3, xDomain:[244,290], yDomain:[-1,3], xTicks:xTicks4, xMinor:xMinor4, yTicks:yTicks4, yMinor:yMinor4, obs:obs4, sim:sim4}
];

panels.forEach(p => {
  const w = p.right - p.left, h = p.bottom - p.top;
  const x = d3.scaleLinear().domain(p.xDomain).range([p.left, p.right]);
  const y = d3.scaleLinear().domain(p.yDomain).range([p.bottom, p.top]);
  const g = svg.append("g");

  // horizontal gridlines + y labels
  const yAx = g.append("g").attr("transform",`translate(${p.left},0)`)
    .call(d3.axisLeft(y).tickValues(p.yTicks).tickSize(-w).tickPadding(11).tickFormat(fmt));
  yAx.select(".domain").remove();
  yAx.selectAll("line").attr("stroke","#1e1e1e").attr("stroke-width",1);
  yAx.selectAll("text").attr("font-size",14).attr("fill","#000").attr("font-family",FONT);

  // vertical gridlines + x labels
  const xAx = g.append("g").attr("transform",`translate(0,${p.bottom})`)
    .call(d3.axisBottom(x).tickValues(p.xTicks).tickSize(-h).tickPadding(5.5).tickFormat(fmt));
  xAx.select(".domain").remove();
  xAx.selectAll("line").attr("stroke","#1e1e1e").attr("stroke-width",1);
  xAx.selectAll("text").attr("font-size",14).attr("fill","#000").attr("font-family",FONT);

  // minor ticks
  const yMin = g.append("g").attr("transform",`translate(${p.left},0)`)
    .call(d3.axisLeft(y).tickValues(p.yMinor).tickSize(-5).tickFormat(""));
  yMin.select(".domain").remove();
  yMin.selectAll("line").attr("stroke","#000").attr("stroke-width",1);
  const xMin = g.append("g").attr("transform",`translate(0,${p.bottom})`)
    .call(d3.axisBottom(x).tickValues(p.xMinor).tickSize(-5).tickFormat(""));
  xMin.select(".domain").remove();
  xMin.selectAll("line").attr("stroke","#000").attr("stroke-width",1);

  // data lines
  const clipId = "clip" + p.id;
  svg.append("clipPath").attr("id",clipId).append("rect")
    .attr("x",p.left).attr("y",p.top).attr("width",w).attr("height",h);
  const line = d3.line().x(d => x(d[0])).y(d => y(d[1]));
  const lg = g.append("g").attr("clip-path",`url(#${clipId})`);
  lg.append("path").datum(p.obs).attr("d",line).attr("fill","none").attr("stroke",BLUE).attr("stroke-width",1.5).attr("stroke-linejoin","round");
  lg.append("path").datum(p.sim).attr("d",line).attr("fill","none").attr("stroke",RED).attr("stroke-width",1.5).attr("stroke-linejoin","round");

  // frame
  g.append("rect").attr("x",p.left).attr("y",p.top).attr("width",w).attr("height",h)
    .attr("fill","none").attr("stroke","#000").attr("stroke-width",1.6);
  g.append("line").attr("x1",p.left).attr("x2",p.left).attr("y1",p.top-0.8).attr("y2",p.bottom+1.2).attr("stroke","#000").attr("stroke-width",2.4);
  g.append("line").attr("x1",p.left-1.2).attr("x2",p.right+0.8).attr("y1",p.bottom).attr("y2",p.bottom).attr("stroke","#000").attr("stroke-width",2.4);

  // title
  g.append("text").attr("x",(p.left+p.right)/2 - 4.5).attr("y",p.top - 5)
    .attr("text-anchor","middle").attr("font-size",26).attr("font-weight","bold").text(titleText);
  // x-axis title
  g.append("text").attr("x",(p.left+p.right)/2).attr("y",p.bottom + 28.5)
    .attr("text-anchor","middle").attr("font-size",14.5).attr("font-weight","bold").text(xTitle);
  // y-axis title
  g.append("text").attr("transform",`translate(${p.left-68},${(p.top+p.bottom)/2}) rotate(-90)`)
    .attr("text-anchor","middle").attr("font-size",13).attr("font-weight","bold").text(yTitle);

  // legend
  const lx = p.right - 103, ly = p.top + 9.5;
  const leg = g.append("g");
  leg.append("rect").attr("x",lx).attr("y",ly).attr("width",134).attr("height",50).attr("fill","#fff").attr("stroke","#333").attr("stroke-width",1.5);
  [BLUE, RED].forEach((c,i) => {
    const yy = ly + 21.5 + i*13;
    leg.append("line").attr("x1",lx+12).attr("x2",lx+62).attr("y1",yy).attr("y2",yy).attr("stroke",c).attr("stroke-width",1.5);
    leg.append("text").attr("x",lx+71).attr("y",yy+3.8).attr("font-size",11).attr("font-weight","bold").text(seriesNames[i]);
  });
});
</script>
</body></html>
